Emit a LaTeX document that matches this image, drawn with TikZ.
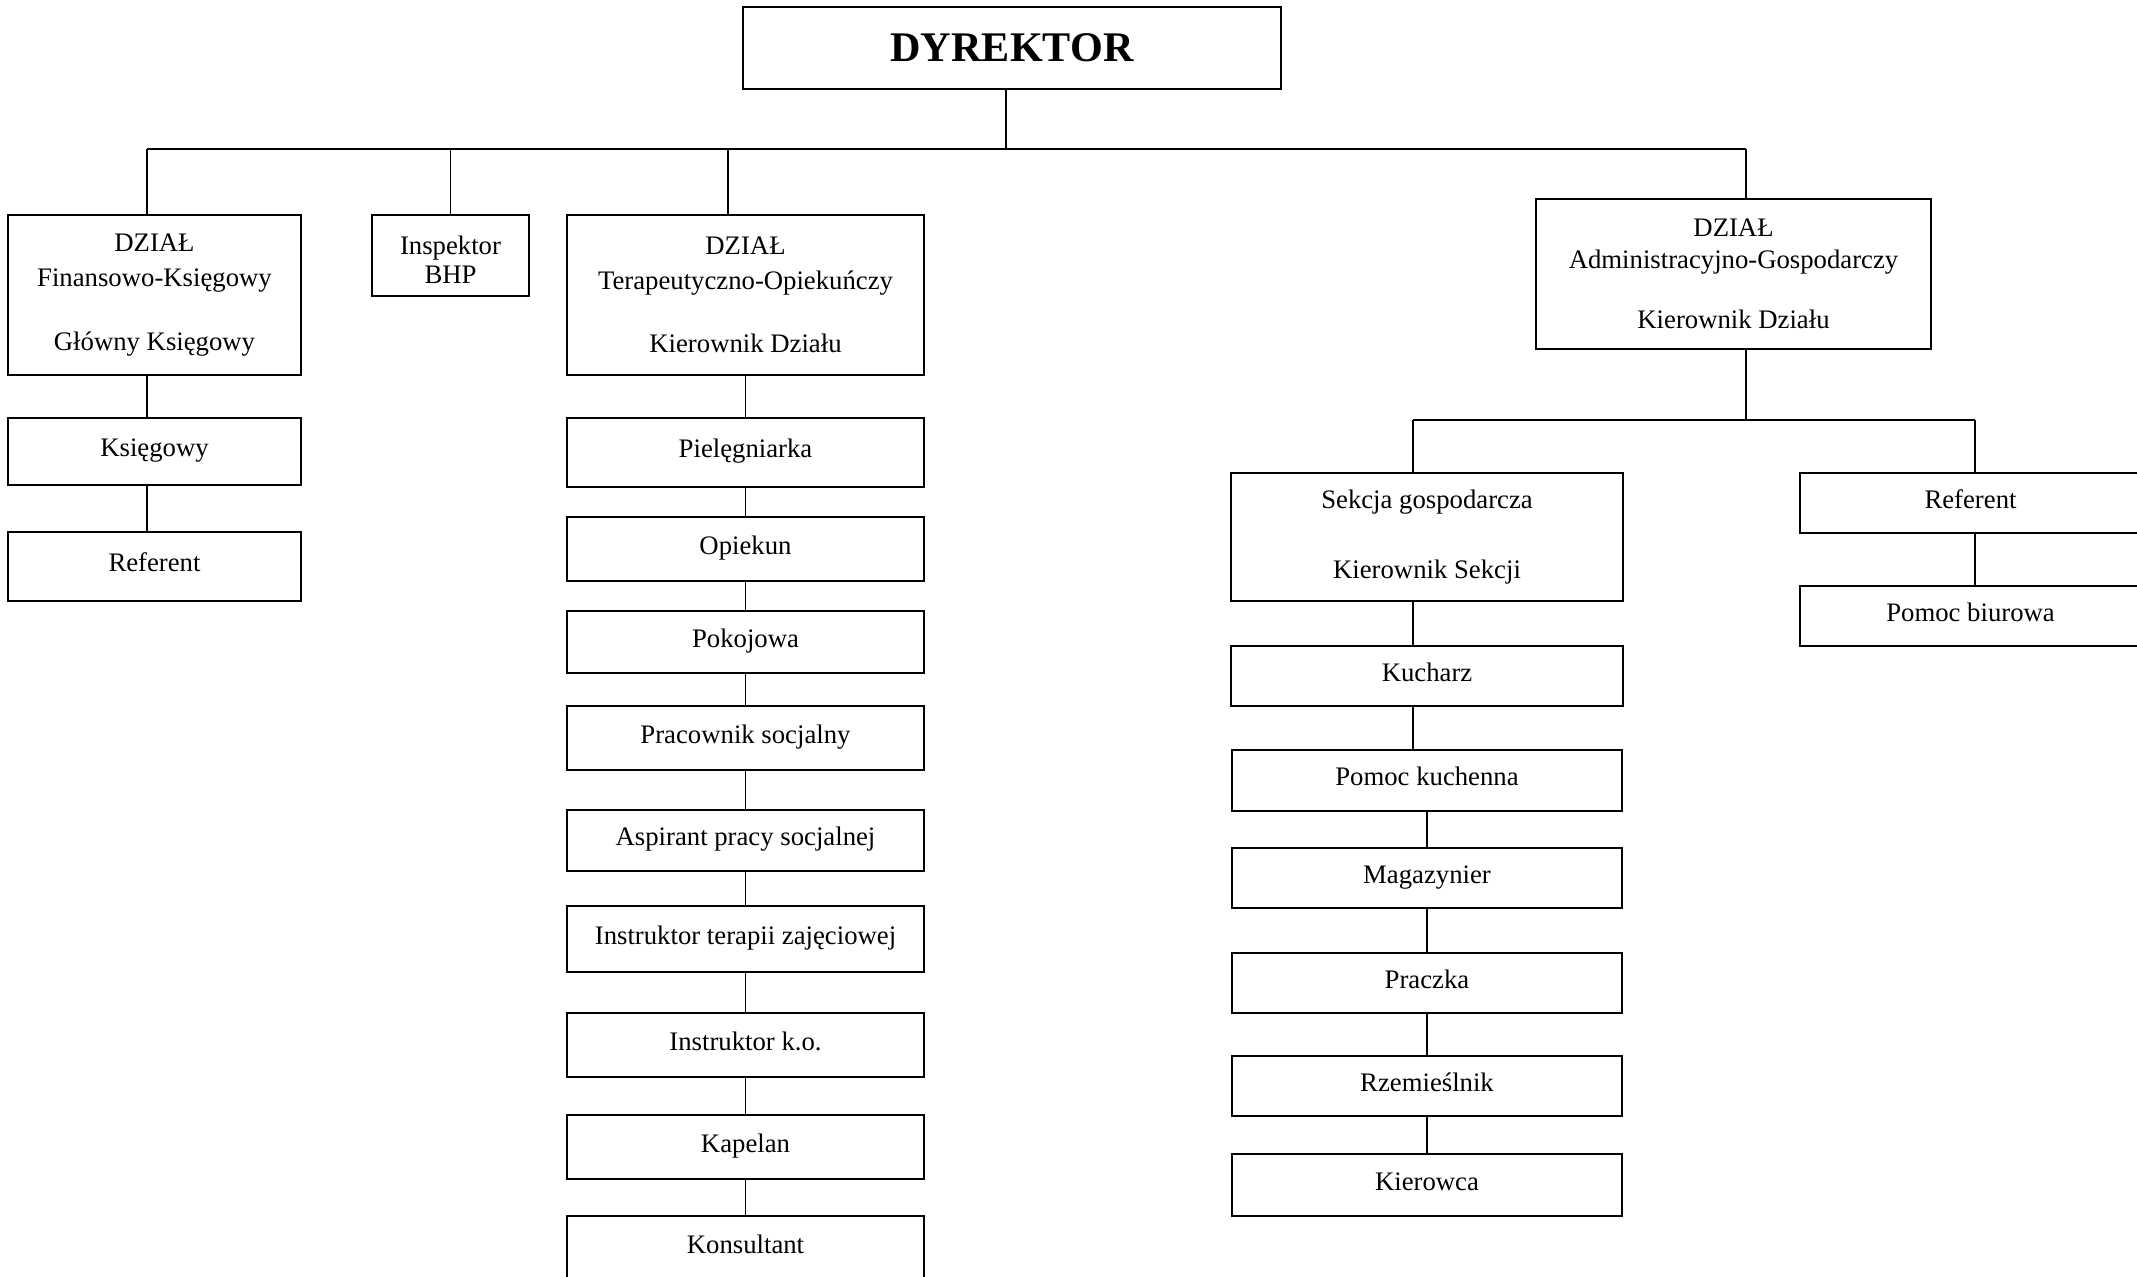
\documentclass[tikz,border=0pt]{standalone}
\usepackage{fontspec}
\setmainfont{Liberation Serif}
\usetikzlibrary{calc}

\tikzset{
    unit/.style={draw, line width=0.55pt, inner sep=0pt, align=center,
        font=\fontsize{7.6}{10}\selectfont},
    post/.style={unit, text height=5.4pt, text depth=2.4pt},
    link/.style={line width=0.55pt},
}

\begin{document}
\begin{tikzpicture}[x=0.01cm,y=-0.01cm]
                    \useasboundingbox (0,0) rectangle (2137,1276);

                    \node[unit, minimum width=5.38cm, minimum height=0.82cm,
                        font=\fontsize{12}{14}\selectfont\bfseries] (dyrektor) at (1012,48) {DYREKTOR};

                    \node[unit, minimum width=2.93cm, minimum height=1.60cm] (fin) at (154.5,295)
                        {DZIAŁ\\Finansowo-Księgowy\\[8pt]Główny Księgowy};
                    \node[post, minimum width=2.93cm, minimum height=0.67cm] (ksieg) at (154.5,451.5) {Księgowy};
                    \node[post, minimum width=2.93cm, minimum height=0.69cm] (refL) at (154.5,566.5) {Referent};

                    \node[unit, minimum width=1.57cm, minimum height=0.81cm, text height=16.2pt] (bhp) at (450.5,255.5)
                        {Inspektor\\[-1.5pt]BHP};

                    \node[unit, minimum width=3.57cm, minimum height=1.60cm] (terap) at (745.5,295)
                        {DZIAŁ\\Terapeutyczno-Opiekuńczy\\[8pt]Kierownik Działu};
                    \node[post, minimum width=3.57cm, minimum height=0.69cm] (pieleg) at (745.5,452.5) {Pielęgniarka};
                    \node[post, minimum width=3.57cm, minimum height=0.64cm] (opiekun) at (745.5,549) {Opiekun};
                    \node[post, minimum width=3.57cm, minimum height=0.62cm] (pokoj) at (745.5,642) {Pokojowa};
                    \node[post, minimum width=3.57cm, minimum height=0.64cm] (pracsoc) at (745.5,738) {Pracownik socjalny};
                    \node[post, minimum width=3.57cm, minimum height=0.61cm] (aspir) at (745.5,840.5) {Aspirant pracy socjalnej};
                    \node[post, minimum width=3.57cm, minimum height=0.66cm] (instter) at (745.5,939) {Instruktor terapii zajęciowej};
                    \node[post, minimum width=3.57cm, minimum height=0.64cm] (instko) at (745.5,1045) {Instruktor k.o.};
                    \node[post, minimum width=3.57cm, minimum height=0.64cm] (kapel) at (745.5,1147) {Kapelan};
                    \node[post, minimum width=3.57cm, minimum height=0.64cm] (konsul) at (745.5,1248) {Konsultant};

                    \node[unit, minimum width=3.95cm, minimum height=1.50cm] (admin) at (1733.5,274)
                        {DZIAŁ\\[-1pt]Administracyjno-Gospodarczy\\[7.3pt]Kierownik Działu};

                    \node[unit, minimum width=3.92cm, minimum height=1.28cm] (sekcja) at (1427,537)
                        {Sekcja gospodarcza\\[10pt]Kierownik Sekcji};
                    \node[post, minimum width=3.92cm, minimum height=0.60cm] (kuch) at (1427,676) {Kucharz};
                    \node[post, minimum width=3.90cm, minimum height=0.61cm] (pomkuch) at (1427,780.5) {Pomoc kuchenna};
                    \node[post, minimum width=3.90cm, minimum height=0.60cm] (magaz) at (1427,878) {Magazynier};
                    \node[post, minimum width=3.90cm, minimum height=0.60cm] (praczka) at (1427,983) {Praczka};
                    \node[post, minimum width=3.90cm, minimum height=0.60cm] (rzem) at (1427,1086) {Rzemieślnik};
                    \node[post, minimum width=3.90cm, minimum height=0.62cm] (kier) at (1427,1185) {Kierowca};

                    \node[post, minimum width=3.41cm, minimum height=0.60cm] (refR) at (1970.5,503) {Referent};
                    \node[post, minimum width=3.41cm, minimum height=0.60cm] (pomoc) at (1970.5,616) {Pomoc biurowa};

                    \coordinate (top) at (1006,149);
                    \coordinate (busL) at (147,149);
                    \coordinate (busT) at (728,149);
                    \coordinate (busR) at (1746,149);
                    \draw[link] (dyrektor.south -| top) -- (top);
                    \draw[link] (busL) -- (busR);
                    \draw[link] (busL) -- (fin.north -| busL);
                    \draw[link] (bhp.north |- busL) -- (bhp.north);
                    \draw[link] (busT) -- (terap.north -| busT);
                    \draw[link] (busR) -- (admin.north -| busR);

                    \draw[link] (fin.south -| busL) -- (ksieg.north -| busL);
                    \draw[link] (ksieg.south -| busL) -- (refL.north -| busL);

                    \foreach \a/\b in {terap/pieleg, pieleg/opiekun, opiekun/pokoj, pokoj/pracsoc,
                        pracsoc/aspir, aspir/instter, instter/instko, instko/kapel, kapel/konsul}
                        \draw[link] (\a.south) -- (\b.north);

                    \coordinate (adm) at (1746,420);
                    \coordinate (admL) at (1413,420);
                    \coordinate (admR) at (1975,420);
                    \draw[link] (admin.south -| adm) -- (adm);
                    \draw[link] (admL) -- (admR);
                    \draw[link] (admL) -- (sekcja.north -| admL);
                    \draw[link] (admR) -- (refR.north -| admR);
                    \draw[link] (refR.south -| admR) -- (pomoc.north -| admR);

                    \draw[link] (sekcja.south -| admL) -- (kuch.north -| admL);
                    \draw[link] (kuch.south -| admL) -- (pomkuch.north -| admL);
                    \foreach \a/\b in {pomkuch/magaz, magaz/praczka, praczka/rzem, rzem/kier}
                        \draw[link] (\a.south) -- (\b.north);
                \end{tikzpicture}
\end{document}
